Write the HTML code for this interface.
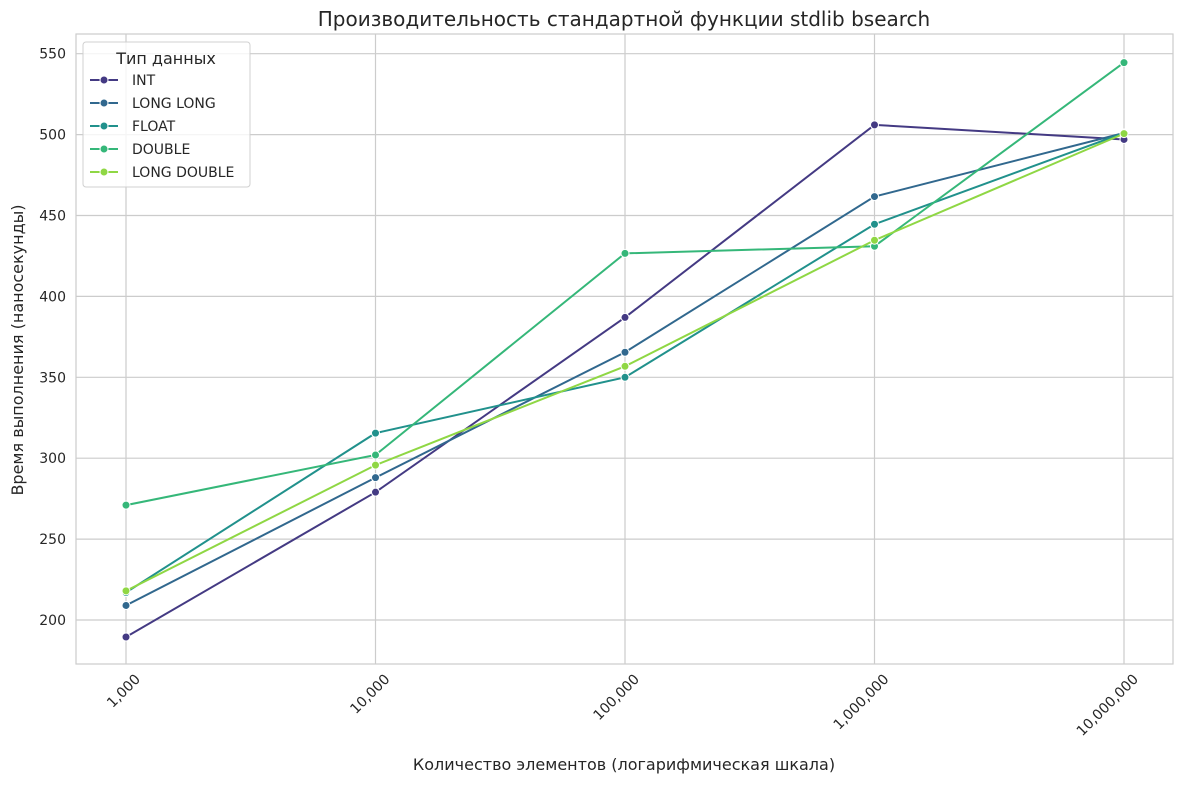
<!DOCTYPE html>
<html><head><meta charset="utf-8">
<style>
body{margin:0;background:#fff;font-family:"Liberation Sans","DejaVu Sans",sans-serif;}
svg text{font-family:"DejaVu Sans","Liberation Sans",sans-serif;fill:#262626;}
</style></head>
<body>
<svg id="chart" width="1184" height="784" xmlns="http://www.w3.org/2000/svg">
<text x="624" y="26" font-size="20" text-anchor="middle">Производительность стандартной функции stdlib bsearch</text>
<g id="grid"></g>
<rect x="76" y="34" width="1097" height="630" fill="none" stroke="#cccccc" stroke-width="1.2"/>
<g id="series"></g>
<g id="ticks"></g>
<text x="624" y="770" font-size="16" text-anchor="middle">Количество элементов (логарифмическая шкала)</text>
<text transform="translate(23,350) rotate(-90)" font-size="16" text-anchor="middle">Время выполнения (наносекунды)</text>
<g id="legend"></g>
</svg>
<script>
const categories=[1000,10000,100000,1000000,10000000];
const xTickLabels=["1,000","10,000","100,000","1,000,000","10,000,000"];
const yTicks=[200,250,300,350,400,450,500,550];
const seriesNames=["INT","LONG LONG","FLOAT","DOUBLE","LONG DOUBLE"];
const intVals=[189.5,279,387,506,497];
const longLongVals=[209,288,365.5,461.7,501];
const floatVals=[217,315.5,350,444.6,501];
const doubleVals=[271,302,426.6,431,544.5];
const longDoubleVals=[218,295.7,356.8,434.7,500.6];
const colors=["#443a83","#31688e","#21918c","#35b779","#8fd744"];
const allVals=[intVals,longLongVals,floatVals,doubleVals,longDoubleVals];
const NS="http://www.w3.org/2000/svg";
function X(v){return 126+(Math.log10(v)-3)*249.5;}
function Y(v){return 620-(v-200)*80.9/50;}
function mk(tag,attrs,parent){const e=document.createElementNS(NS,tag);for(const k in attrs)e.setAttribute(k,attrs[k]);parent.appendChild(e);return e;}
const grid=document.getElementById('grid'),ticks=document.getElementById('ticks'),ser=document.getElementById('series'),leg=document.getElementById('legend');
categories.forEach((c,i)=>{
 const l=mk('line',{x1:X(c),x2:X(c),y1:34,y2:664,stroke:'#cccccc','stroke-width':1.2},grid);
 
 
 const x=X(c)+15,y=680;
 const t=mk('text',{x:x,y:y,'font-size':14,'text-anchor':'end',transform:`rotate(-45 ${x} ${y})`},ticks);
 t.textContent=xTickLabels[i];
 
 
});
yTicks.forEach(v=>{
 const l=mk('line',{x1:76,x2:1173,y1:Y(v),y2:Y(v),stroke:'#cccccc','stroke-width':1.2},grid);
 
 
 const t=mk('text',{x:66,y:Y(v)+5,'font-size':14,'text-anchor':'end'},ticks);
 t.textContent=v;
 
 
});
allVals.forEach((vals,s)=>{
 const g=mk('g',{},ser);
 
 
 const p=mk('polyline',{points:vals.map((v,i)=>X(categories[i])+','+Y(v)).join(' '),fill:'none',stroke:colors[s],'stroke-width':2},g);
 
 
 vals.forEach((v,i)=>{
  const c=mk('circle',{cx:X(categories[i]),cy:Y(v),r:4,fill:colors[s],stroke:'#fff','stroke-width':1},g);
  
  
 });
});
const box=mk('rect',{x:83,y:42,width:167,height:145,rx:3,fill:'#fff','fill-opacity':0.8,stroke:'#d0d0d0'},leg);


const lt=mk('text',{x:166,y:64,'font-size':16,'text-anchor':'middle'},leg);
lt.textContent='Тип данных';


seriesNames.forEach((n,i)=>{
 const y=80+i*23;
 const g=mk('g',{},leg);
 
 
 mk('line',{x1:90,x2:118,y1:y,y2:y,stroke:colors[i],'stroke-width':2},g);
 mk('circle',{cx:104,cy:y,r:4,fill:colors[i],stroke:'#fff','stroke-width':1},g);
 const t=mk('text',{x:132,y:y+5,'font-size':14},g);
 t.textContent=n;
});
</script>
</body></html>
